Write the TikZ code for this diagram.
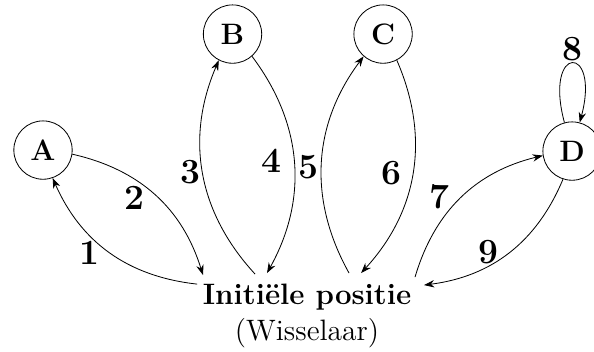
\documentclass[tikz,border=0pt]{standalone}
\usepackage{amsmath, amssymb}
\usetikzlibrary{positioning, arrows.meta, calc}

\begin{document}
\begin{tikzpicture}[
    >={Stealth[length=5pt, width=3.6pt]},
    stnode/.style={draw, circle, minimum size=1cm, inner sep=0pt, font=\Large\bfseries},
    startnode/.style={align=center, inner sep=5pt},
    lbl/.style={font=\LARGE\bfseries, inner sep=0pt},
    movearrow/.style={->, thin}
]

% 0. Vaste afmetingen van de figuur
\useasboundingbox (0,0) rectangle (10.18,6.017);

% 1. Posities
\node[stnode] (A) at (0.737,3.445) {A};
\node[stnode] (B) at (3.985,5.433) {B};
\node[stnode] (C) at (6.565,5.433) {C};
\node[stnode] (D) at (9.804,3.428) {D};

% 2. Beginpositie onderaan
\node[startnode, anchor=north] (init) at (5.262,1.337)
    {{\Large\bfseries Initiële positie}\\[3pt]{\Large (Wisselaar)}};

% aanhechtpunten op de beginpositie
\coordinate (i1) at ([xshift=-1.885cm, yshift=-0.189cm]init.north);
\coordinate (i2) at ([xshift=-1.783cm, yshift=-0.034cm]init.north);
\coordinate (i3) at ([xshift=-0.891cm, yshift=-0.017cm]init.north);
\coordinate (i4) at ([xshift=-0.686cm]init.north);
\coordinate (i5) at ([xshift=0.720cm]init.north);
\coordinate (i6) at ([xshift=0.926cm]init.north);
\coordinate (i7) at ([xshift=1.851cm, yshift=-0.069cm]init.north);
\coordinate (i9) at ([xshift=2.005cm, yshift=-0.206cm]init.north);

% 3. Overgangen heen en terug
\draw[movearrow] (i1) to[bend left] node[lbl, auto, pos=0.6, xshift=0.08cm] {1} (A);
\draw[movearrow] (A) to[bend left] node[lbl, auto, swap, pos=0.42] {2} (i2);
\draw[movearrow] (i3) to[bend left=33] node[lbl, auto, pos=0.56] {3} (B);
\draw[movearrow] (B) to[bend left=33] node[lbl, auto, swap, pos=0.44, xshift=-0.19cm] {4} (i4);
\draw[movearrow] (i5) to[bend left=33] node[lbl, auto, pos=0.48, xshift=-0.05cm] {5} (C);
\draw[movearrow] (C) to[bend left=33] node[lbl, auto, swap, pos=0.56, xshift=-0.14cm] {6} (i6);
\draw[movearrow] (i7) to[bend left] node[lbl, auto, pos=0.41] {7} (D);
\draw[movearrow] (D) to[bend left] node[lbl, auto, swap, pos=0.62, xshift=0.12cm] {9} (i9);

% 4. Lus op D
\draw[movearrow] (D) to[loop above, looseness=8, min distance=1.4cm] node[lbl, above, inner sep=1pt] {8} (D);

\end{tikzpicture}
\end{document}
